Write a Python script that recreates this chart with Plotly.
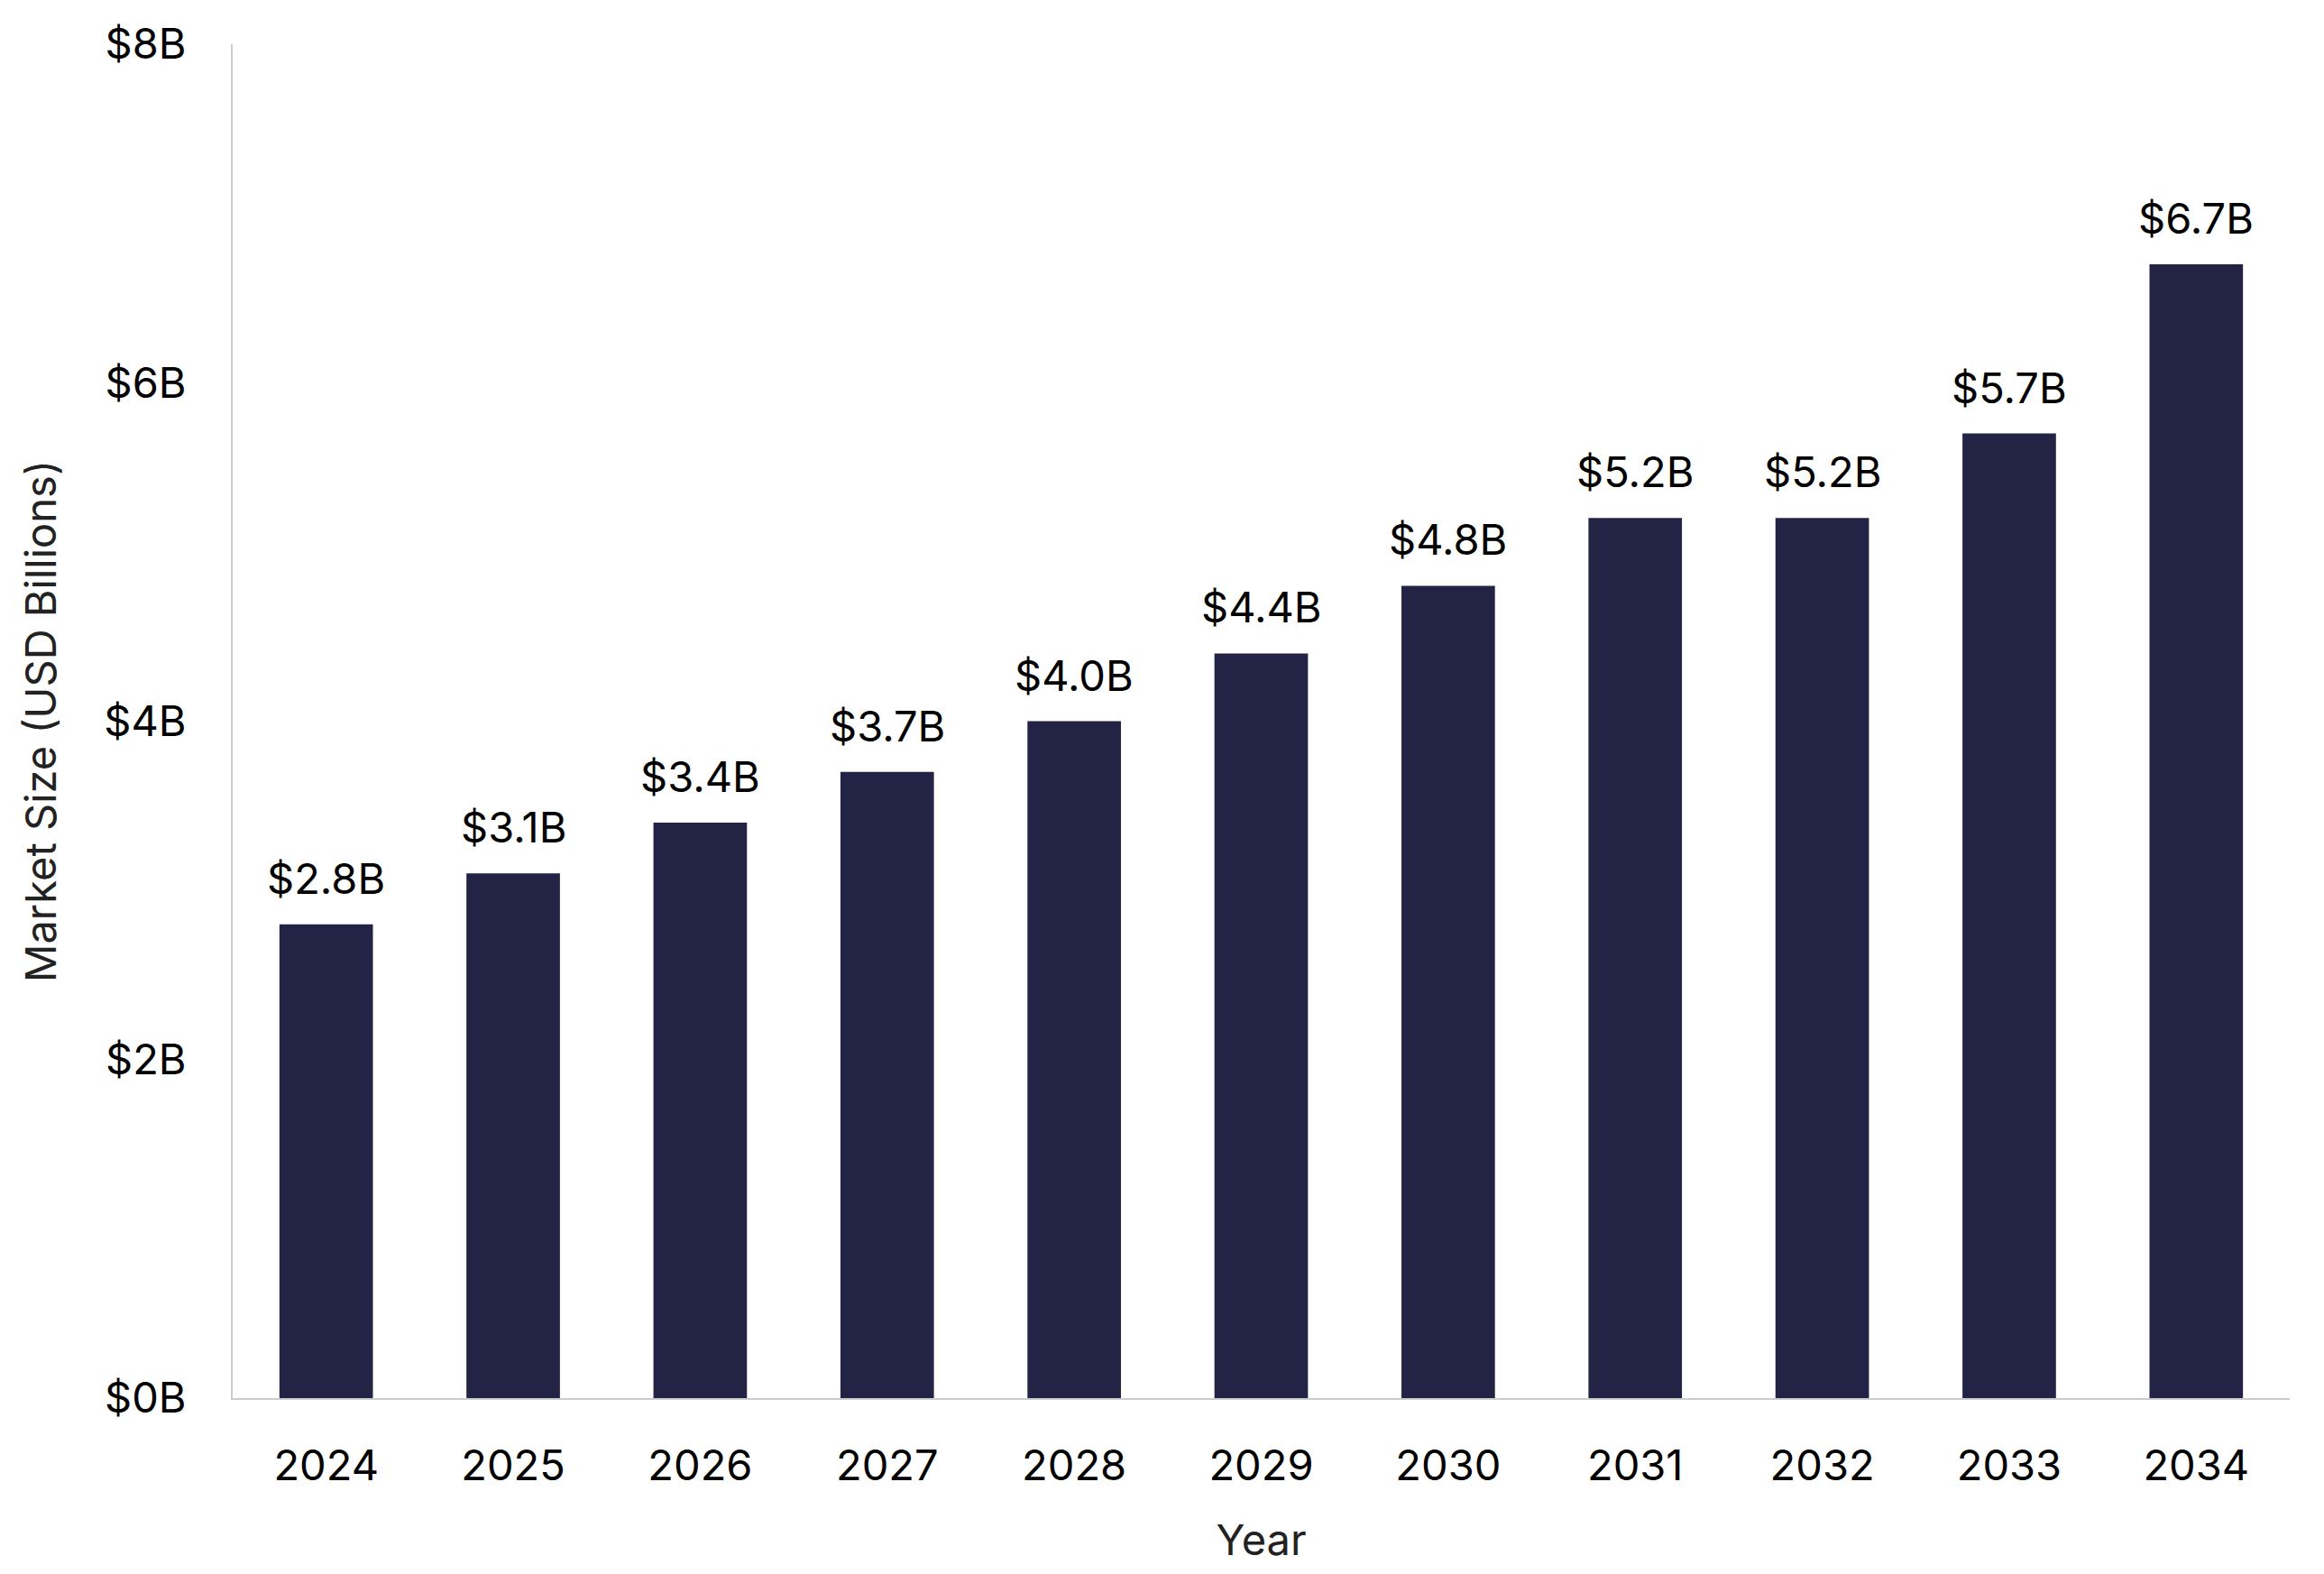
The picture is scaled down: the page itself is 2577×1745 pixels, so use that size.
import plotly.graph_objects as go

years = ["2024", "2025", "2026", "2027", "2028", "2029", "2030", "2031", "2032", "2033", "2034"]
market_size = [2.8, 3.1, 3.4, 3.7, 4.0, 4.4, 4.8, 5.2, 5.2, 5.7, 6.7]
y_tick_vals = [0, 2, 4, 6, 8]
y_tick_text = ["$0B", "$2B", "$4B", "$6B", "$8B"]

FONT = "Inter, Liberation Sans, Arial, sans-serif"
FSIZE = 47
BAR_COLOR = "#232345"

fig = go.Figure()
fig.add_trace(go.Bar(
    x=years,
    y=market_size,
    marker=dict(color=BAR_COLOR, line=dict(width=0)),
    width=0.5,
    hoverinfo="skip",
))

# label each bar; on a category axis, annotation x given as the category index
for i, v in enumerate(market_size):
    fig.add_annotation(
        x=i, y=v, xref="x", yref="y", text=f"${v:.1f}B", showarrow=False,
        yanchor="bottom", yshift=21,
        font=dict(family=FONT, size=FSIZE, color="#000000"),
    )

fig.update_layout(
    width=2577, height=1745,
    paper_bgcolor="white", plot_bgcolor="white",
    margin=dict(l=250, r=46, t=41, b=203),
    showlegend=False,
    font=dict(family=FONT, size=FSIZE, color="#000000"),
)
fig.update_xaxes(
    type="category", categoryorder="array", categoryarray=years,
    range=[-0.5, len(years) - 0.5],
    showline=True, linecolor="#cccccc", linewidth=2,
    showgrid=False, ticks="", ticklabelstandoff=33,
    tickfont=dict(family=FONT, size=FSIZE, color="#000000"),
    title=dict(text="Year", font=dict(family=FONT, size=FSIZE, color="#222222"), standoff=40),
)
fig.update_yaxes(
    range=[0, 8],
    tickvals=y_tick_vals, ticktext=y_tick_text,
    showline=True, linecolor="#cccccc", linewidth=2,
    showgrid=False, zeroline=False, ticks="", ticklabelstandoff=40,
    tickfont=dict(family=FONT, size=FSIZE, color="#000000"),
    title=dict(text="Market Size (USD Billions)", font=dict(family=FONT, size=FSIZE, color="#222222"), standoff=38),
)

fig.write_html("out.html")
